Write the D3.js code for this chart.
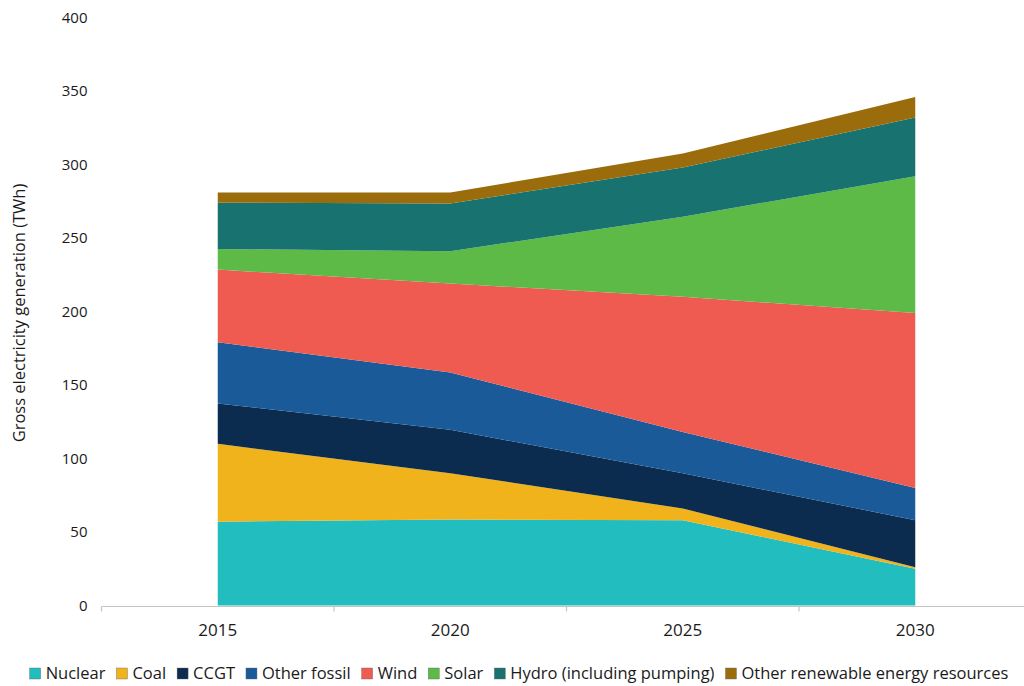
<!DOCTYPE html>
<html>
<head>
<meta charset="utf-8">
<script src="https://cdn.jsdelivr.net/npm/d3@7"></script>
<style>
  body { margin: 0; background: #fff; }
  text { font-family: "Open Sans", "DejaVu Sans", sans-serif; fill: #1a1a1a; }
</style>
</head>
<body>
<div id="chart"></div>
<script>
// data (TWh)
const years = ["2015", "2020", "2025", "2030"];
const seriesNames = ["Nuclear", "Coal", "CCGT", "Other fossil", "Wind", "Solar", "Hydro (including pumping)", "Other renewable energy resources"];
const nuclear = [57, 58.5, 58, 25];
const coal = [53, 31.5, 8, 1];
const ccgt = [27.5, 29.5, 24, 32];
const otherFossil = [41.5, 39, 28, 22];
const wind = [49.5, 60.5, 92, 119];
const solar = [14, 22, 54.5, 93];
const hydro = [31.5, 32.5, 33.5, 40];
const otherRenew = [7, 7.5, 9.5, 14];
const yTicks = [0, 50, 100, 150, 200, 250, 300, 350, 400];

const colors = ["#21bdbf", "#f0b31b", "#0b2c4f", "#1b5a98", "#f05b51", "#5dba47", "#177270", "#9a6c0b"];

function renderChart () {
    const wSvg = 1024;
    const hSvg = 686;
    const left = 101.5;
    const right = 1031.5;
    const top = 17.5;
    const bottom = 605.5;

    const allSeries = [nuclear, coal, ccgt, otherFossil, wind, solar, hydro, otherRenew];
    let table = years.map((y, i) => {
        let row = {year: y};
        seriesNames.forEach((s, j) => row[s] = allSeries[j][i]);
        return row;
    });

    let stacked = d3.stack().keys(seriesNames)(table);

    let xScale = d3.scaleBand(years, [left, right]).padding(0);
    let yScale = d3.scaleLinear([0, 400], [bottom, top]);
    let colorScale = d3.scaleOrdinal(seriesNames, colors);

    let svg = d3.select("#chart")
        .append("svg")
        .attr("width", wSvg)
        .attr("height", hSvg);

    let area = d3.area()
        .x(d => xScale(d.data.year) + xScale.bandwidth() / 2)
        .y0(d => yScale(d[0]))
        .y1(d => yScale(d[1]));

    svg.append("g")
        .selectAll("path")
        .data(stacked)
        .enter()
        .append("path")
        .attr("d", area)
        .attr("fill", d => colorScale(d.key));

    // y axis: labels only
    let yAxis = d3.axisLeft(yScale).tickValues(yTicks).tickSize(0).tickPadding(14);
    let gy = svg.append("g")
        .attr("transform", `translate(${left}, 0)`)
        .call(yAxis);
    gy.select(".domain").remove();
    gy.selectAll("text")
        .style("font-size", "15px")
        .style("font-family", "'Open Sans', sans-serif")
        .attr("fill", "#1a1a1a");

    // x axis
    let xAxis = d3.axisBottom(xScale).tickSize(0).tickPadding(17);
    let gx = svg.append("g")
        .attr("transform", `translate(0, ${bottom + 1})`)
        .call(xAxis);
    gx.select(".domain").remove();
    gx.selectAll("text")
        .style("font-size", "17px")
        .style("font-family", "'Open Sans', sans-serif")
        .attr("fill", "#1a1a1a");

    svg.append("line")
        .attr("x1", left)
        .attr("x2", right)
        .attr("y1", bottom + 1)
        .attr("y2", bottom + 1)
        .attr("stroke", "#c4c4c4")
        .attr("stroke-width", 1.2);

    let bounds = years.map(y => xScale(y)).concat([xScale.range()[1]]);
    svg.append("g")
        .selectAll("line")
        .data(bounds)
        .enter()
        .append("line")
        .attr("x1", d => d)
        .attr("x2", d => d)
        .attr("y1", bottom + 1)
        .attr("y2", bottom + 6)
        .attr("stroke", "#c4c4c4")
        .attr("stroke-width", 1.2);

    // y title
    svg.append("text")
        .attr("transform", `translate(25, 313) rotate(-90)`)
        .attr("text-anchor", "middle")
        .style("font-size", "16.5px")
        .text("Gross electricity generation (TWh)");

    // legend
    let legend = svg.append("g").attr("transform", "translate(0, 673)");
    let items = legend.selectAll("g")
        .data(seriesNames)
        .enter()
        .append("g");
    items.append("rect")
        .attr("width", 11)
        .attr("height", 11)
        .attr("y", -5)
        .attr("fill", d => colorScale(d))
        .attr("stroke", "#666")
        .attr("stroke-width", 0.4);
    items.append("text")
        .attr("x", 16)
        .attr("y", 6)
        .style("font-size", "16.5px")
        .text(d => d);

    let xPos = 0;
    let offsets = [];
    items.each(function () {
        offsets.push(xPos);
        let w = this.querySelector("text").getComputedTextLength();
        xPos += 16 + w + 11;
    });
    let total = xPos - 11;
    let start = 519 - total / 2;
    items.attr("transform", (d, i) => `translate(${start + offsets[i]}, 0)`);
}

renderChart();
</script>
</body>
</html>
